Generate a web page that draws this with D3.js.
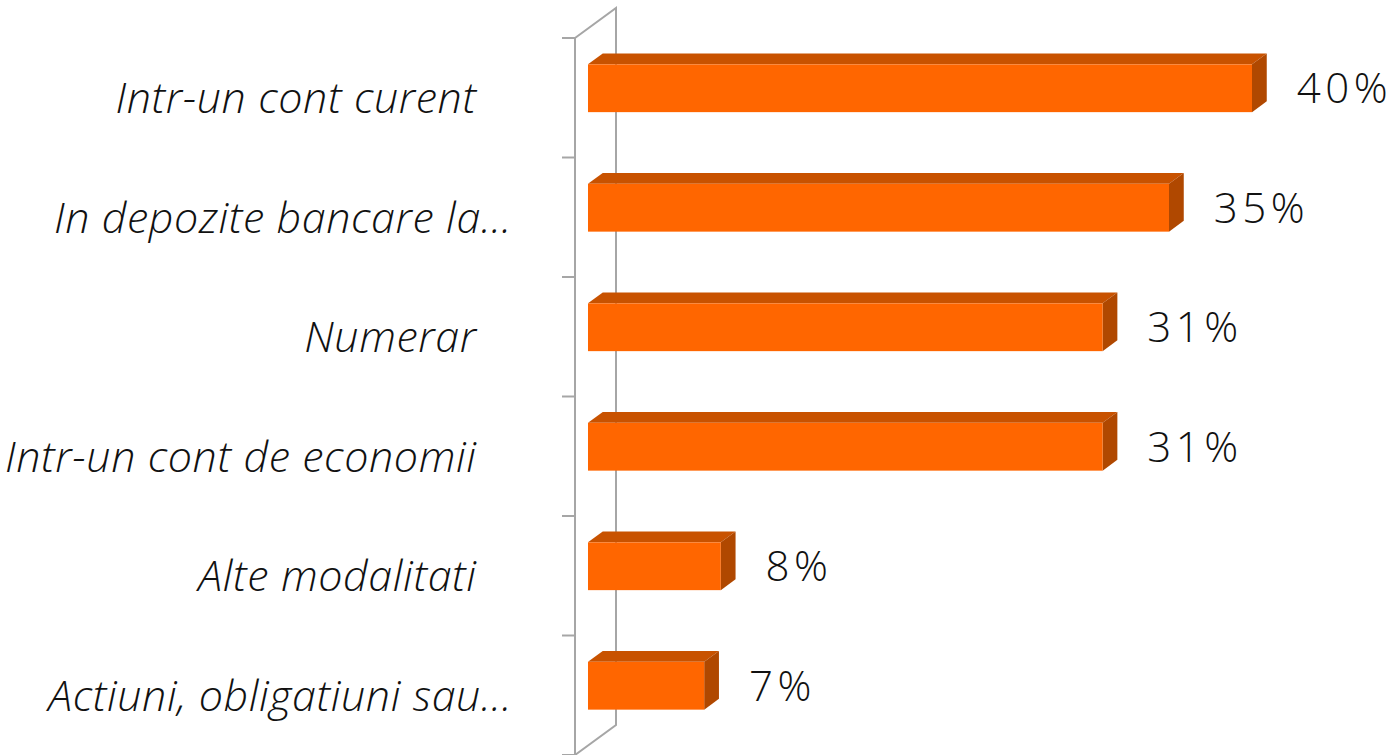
<!DOCTYPE html>
<html><head><meta charset="utf-8">
<script src="https://cdn.jsdelivr.net/npm/d3@7"></script>
<style>html,body{margin:0;padding:0;background:#fff;overflow:hidden}</style>
</head><body>
<svg id="c" width="1393" height="755"></svg>
<script>
const categories = ["Intr-un cont curent   ", "In depozite bancare la...", "Numerar   ", "Intr-un cont de economii   ", "Alte modalitati   ", "Actiuni, obligatiuni sau..."];
const values = [40, 35, 31, 31, 8, 7];
const valueLabels = ["40%", "35%", "31%", "31%", "8%", "7%"];

const svg = d3.select("#c");
// 3D geometry
const wallFront = 575, depthDx = 41, depthDy = -30;
const barFrontFrac = 0.317, barDepthFrac = 0.36;

const y = d3.scaleBand().domain(categories).range([38, 755]).paddingInner(0.6).paddingOuter(0.3);
const x = d3.scaleLinear().domain([0, 40]).range([wallFront + barFrontFrac * depthDx, 1252]);
const step = y.step();

const axisColor = "#a6a6a6";
const g = svg.append("g");
g.append("path").attr("d", `M${wallFront},${38}L${wallFront + depthDx},${38 + depthDy}L${wallFront + depthDx},${755 + depthDy}L${wallFront},${755}Z`)
  .attr("fill", "none").attr("stroke", axisColor).attr("stroke-width", 2);
d3.range(categories.length + 1).forEach(i => {
  const ty = 38 + i * step;
  g.append("line").attr("x1", wallFront - 13).attr("x2", wallFront).attr("y1", ty).attr("y2", ty)
    .attr("stroke", axisColor).attr("stroke-width", 2);
});

const offY = barFrontFrac * depthDy;
const bdx = barDepthFrac * depthDx, bdy = barDepthFrac * depthDy;
const bars = svg.append("g").selectAll("g").data(categories).join("g");
bars.each(function(c, i) {
  const gg = d3.select(this);
  const x0 = x(0), x1 = x(values[i]);
  const y0 = y(c) + offY, y1 = y0 + y.bandwidth();
  gg.append("path").attr("d", `M${x0},${y0}L${x0 + bdx},${y0 + bdy}L${x1 + bdx},${y0 + bdy}L${x1},${y0}Z`).attr("fill", "#c85200");
  gg.append("path").attr("d", `M${x1},${y0}L${x1 + bdx},${y0 + bdy}L${x1 + bdx},${y1 + bdy}L${x1},${y1}Z`).attr("fill", "#b04800");
  gg.append("rect").attr("x", x0).attr("y", y0).attr("width", x1 - x0).attr("height", y1 - y0).attr("fill", "#ff6600");
  gg.append("text").attr("x", x1 + bdx + 30).attr("y", (y0 + y1) / 2 + 15)
    .attr("font-family", "Open Sans").attr("font-weight", 300).attr("font-size", 42).attr("letter-spacing", 4.5).attr("fill", "#111")
    .text(valueLabels[i]);
});

svg.append("g").selectAll("text").data(categories).join("text")
  .attr("x", 512).attr("y", c => y(c) - step * 0.3 + step / 2 + 15.5)
  .attr("text-anchor", "end").attr("xml:space", "preserve").style("white-space", "pre")
  .attr("font-family", "Open Sans").attr("font-weight", 300).attr("font-style", "italic").attr("font-size", 43).attr("letter-spacing", 0.6).attr("fill", "#111")
  .text(d => d);
</script>
</body></html>
